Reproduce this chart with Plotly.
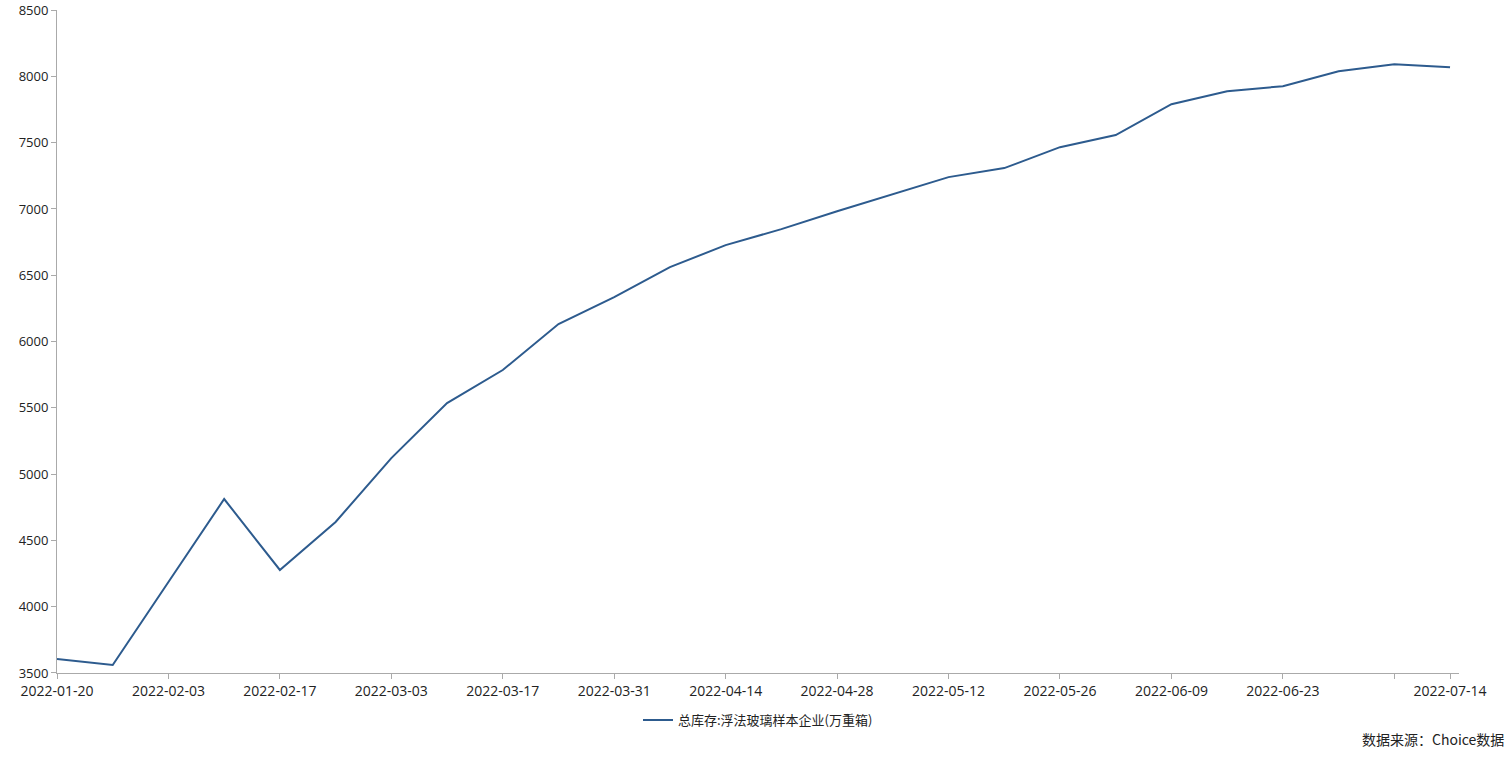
import plotly.graph_objects as go

dates = ["2022-01-20", "2022-01-27", "2022-02-03", "2022-02-10", "2022-02-17", "2022-02-24",
         "2022-03-03", "2022-03-10", "2022-03-17", "2022-03-24", "2022-03-31", "2022-04-07",
         "2022-04-14", "2022-04-21", "2022-04-28", "2022-05-05", "2022-05-12", "2022-05-19",
         "2022-05-26", "2022-06-02", "2022-06-09", "2022-06-16", "2022-06-23", "2022-06-30",
         "2022-07-07", "2022-07-14"]
inventory = [3606, 3560, 4186, 4812, 4277, 4639,
             5121, 5536, 5785, 6132, 6335, 6561,
             6727, 6848, 6983, 7112, 7240, 7308,
             7466, 7557, 7790, 7888, 7926, 8039,
             8092, 8069]
series_name = "总库存:浮法玻璃样本企业(万重箱)"
y_ticks = [3500, 4000, 4500, 5000, 5500, 6000, 6500, 7000, 7500, 8000, 8500]
tick_dates = dates[0::2] + [dates[-1]]
tick_labels = [d for d in dates[0::2]] + [dates[-1]]
tick_labels[-2] = ""  # 2022-07-07 label hidden

font_family = "Open Sans, Noto Sans CJK SC, sans-serif"

fig = go.Figure()
fig.add_trace(go.Scatter(x=dates, y=inventory, mode="lines", name=series_name,
                         line=dict(color="#2d5b8e", width=2)))

fig.update_layout(
    width=1509, height=759,
    margin=dict(l=57, r=50, t=10, b=86),
    paper_bgcolor="white", plot_bgcolor="white",
    font=dict(family=font_family, size=14, color="#222"),
    showlegend=True,
    legend=dict(orientation="h", x=0.5, xanchor="center", y=-0.071, yanchor="middle",
                font=dict(size=13, color="#222", family="Noto Sans CJK SC, sans-serif")),
    xaxis=dict(type="date", range=["2022-01-20", "2022-07-15 03:00"],
               tickvals=tick_dates, ticktext=tick_labels,
               showline=True, linecolor="#aaaaaa", linewidth=1,
               ticks="outside", ticklen=5, tickcolor="#aaaaaa", automargin=False,
               showgrid=False, zeroline=False, tickfont=dict(size=14, color="#222")),
    yaxis=dict(range=[3499.9, 8500.5], tickvals=y_ticks, tickformat="d",
               showline=True, linecolor="#aaaaaa", linewidth=1,
               ticks="outside", ticklen=5, tickcolor="#aaaaaa", automargin=False,
               showgrid=False, zeroline=False, tickfont=dict(size=13, color="#222")),
    annotations=[dict(text="数据来源：Choice数据", xref="paper", yref="paper",
                      x=1.0335, y=-0.0995, xanchor="right", yanchor="middle",
                      showarrow=False, font=dict(size=14, color="#222",
                                                 family="Noto Sans CJK SC, sans-serif"))],
)

fig.write_html("out.html", config={"displayModeBar": False},
               post_script="document.body.style.margin='0';document.body.style.overflow='hidden';")
